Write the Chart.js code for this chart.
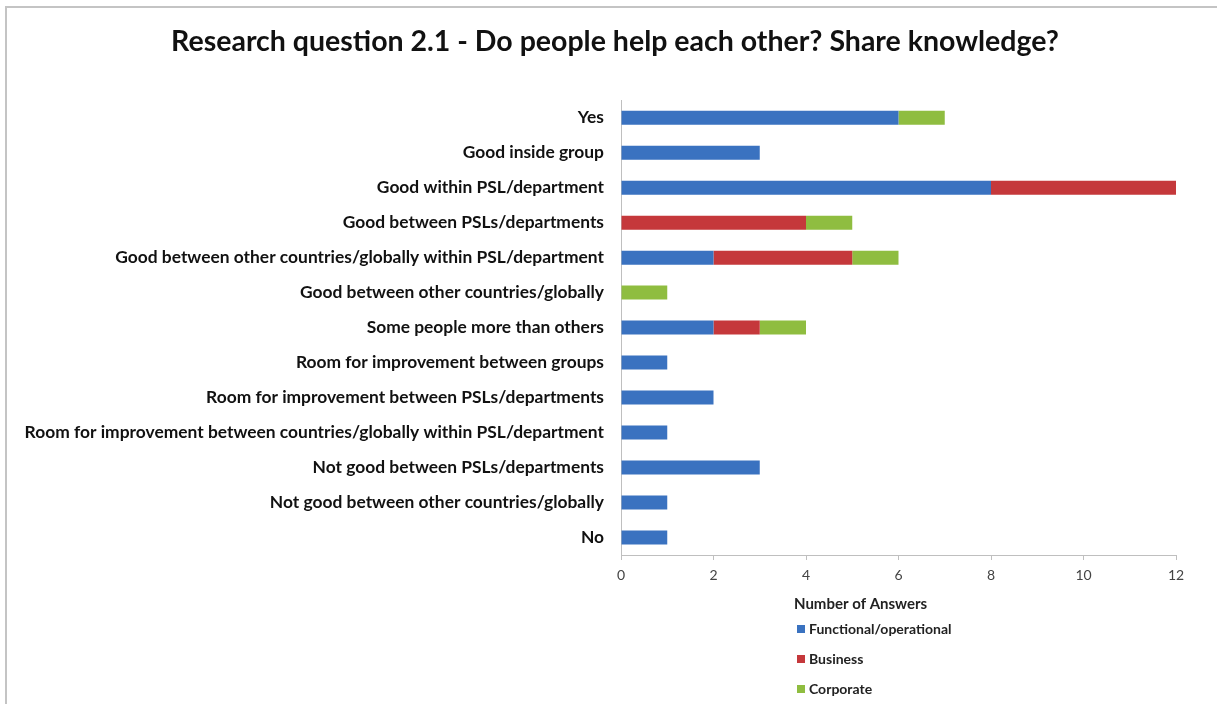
<!DOCTYPE html>
<html>
<head>
<meta charset="utf-8">
<script src="https://cdn.jsdelivr.net/npm/chart.js@4"></script>
<style>
  html, body { margin: 0; padding: 0; background: #fff; }
  #wrap { position: relative; width: 1217px; height: 704px; }
  #frame { position: absolute; left: 5px; top: 6px; right: -2px; bottom: -2px; border-left: 2px solid #c4c4c4; border-top: 2px solid #c4c4c4; pointer-events: none; }
  canvas { position: absolute; left: 0; top: 0; }
</style>
</head>
<body>
<div id="wrap">
  <canvas id="c" width="1217" height="704"></canvas>
  <div id="frame"></div>
</div>
<script>
const titleText = 'Research question 2.1 - Do people help each other? Share knowledge?';
const axisTitle = 'Number of Answers';
const categories = [
  'Yes',
  'Good inside group',
  'Good within PSL/department',
  'Good between PSLs/departments',
  'Good between other countries/globally within PSL/department',
  'Good between other countries/globally',
  'Some people more than others',
  'Room for improvement between groups',
  'Room for improvement between PSLs/departments',
  'Room for improvement between countries/globally within PSL/department',
  'Not good between PSLs/departments',
  'Not good between other countries/globally',
  'No'
];
const seriesNames = ['Functional/operational', 'Business', 'Corporate'];
const functionalValues = [6, 3, 8, 0, 2, 0, 2, 1, 2, 1, 3, 1, 1];
const businessValues   = [0, 0, 4, 4, 3, 0, 1, 0, 0, 0, 0, 0, 0];
const corporateValues  = [1, 0, 0, 1, 1, 1, 1, 0, 0, 0, 0, 0, 0];
const xTicks = [0, 2, 4, 6, 8, 10, 12];
const colors = ['#3a72c0', '#c5383b', '#8fbd40'];

const FONT = 'Lato, "Open Sans", sans-serif';

const titleShift = {
  id: 'titleShift',
  afterLayout(chart) {
    const t = chart.titleBlock;
    if (t) { t.left += 22; t.right += 22; }
  }
};

const legendPlugin = {
  id: 'customLegend',
  afterDraw(chart) {
    const ctx = chart.ctx;
    const ca = chart.chartArea;
    ctx.save();
    ctx.fillStyle = '#222';
    ctx.font = 'bold 15px ' + FONT;
    ctx.textAlign = 'left';
    ctx.textBaseline = 'middle';
    const tx = ca.left + 173;
    ctx.fillText(axisTitle, tx, 604);
    const lx = tx + 3;
    const ys = [629, 659, 689];
    chart.data.datasets.forEach((ds, i) => {
      ctx.fillStyle = ds.backgroundColor;
      ctx.fillRect(lx, ys[i] - 4, 8, 8);
      ctx.fillStyle = '#222';
      ctx.font = 'bold 14px ' + FONT;
      ctx.fillText(ds.label, lx + 12, ys[i]);
    });
    ctx.restore();
  }
};

new Chart(document.getElementById('c'), {
  type: 'bar',
  data: {
    labels: categories,
    datasets: [
      { label: seriesNames[0], data: functionalValues, backgroundColor: colors[0] },
      { label: seriesNames[1], data: businessValues, backgroundColor: colors[1] },
      { label: seriesNames[2], data: corporateValues, backgroundColor: colors[2] }
    ]
  },
  options: {
    indexAxis: 'y',
    responsive: false,
    animation: false,
    datasets: { bar: { categoryPercentage: 1, barPercentage: 0.4 } },
    layout: { padding: { left: 10, right: 41, top: 0, bottom: 119 } },
    plugins: {
      legend: { display: false },
      tooltip: { enabled: false },
      title: {
        display: true,
        text: titleText,
        color: '#111',
        font: { family: FONT, size: 28.5, weight: 'bold' },
        padding: { top: 25, bottom: 41 }
      }
    },
    scales: {
      x: {
        stacked: true,
        min: 0, max: 12,
        afterBuildTicks: s => { s.ticks = xTicks.map(v => ({ value: v })); },
        afterFit: s => { s.height = 30; },
        grid: { display: true, drawOnChartArea: false, tickLength: 5, color: '#bfbfbf' },
        border: { display: true, color: '#bfbfbf', width: 1 },
        ticks: { color: '#444', font: { family: FONT, size: 14 }, padding: 7 }
      },
      y: {
        stacked: true,
        afterFit: s => { s.width = 611; },
        grid: { display: false, drawTicks: false },
        border: { display: true, color: '#bfbfbf', width: 1 },
        ticks: { color: '#111', font: { family: FONT, size: 17.4, weight: 'bold' }, padding: 17, autoSkip: false }
      }
    }
  },
  plugins: [titleShift, legendPlugin]
});
</script>
</body>
</html>
